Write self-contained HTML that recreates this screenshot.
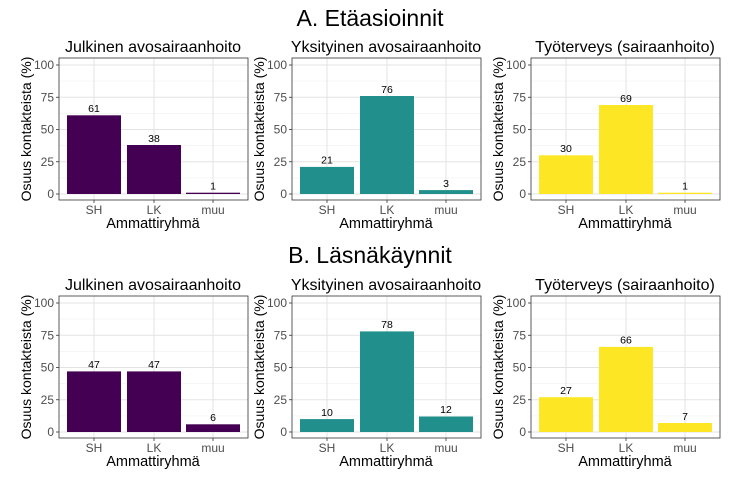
<!DOCTYPE html>
<html><head><meta charset="utf-8"><style>body{margin:0;background:#fff}svg{display:block}text{font-family:"Liberation Sans",sans-serif}</style></head><body>
<svg width="741" height="483" viewBox="0 0 741 483" xmlns="http://www.w3.org/2000/svg">
<defs>
<g id="frame">
<rect x="0" y="0" width="189" height="142" fill="#fff"/>
<g stroke="#f2f2f2" stroke-width="0.6"><line x1="0" x2="189" y1="119.9" y2="119.9"/><line x1="0" x2="189" y1="87.6" y2="87.6"/><line x1="0" x2="189" y1="55.4" y2="55.4"/><line x1="0" x2="189" y1="23.1" y2="23.1"/></g>
<g stroke="#e3e3e3" stroke-width="1"><line x1="0" x2="189" y1="136" y2="136"/><line x1="0" x2="189" y1="103.75" y2="103.75"/><line x1="0" x2="189" y1="71.5" y2="71.5"/><line x1="0" x2="189" y1="39.25" y2="39.25"/><line x1="0" x2="189" y1="7" y2="7"/><line x1="35" x2="35" y1="0" y2="142"/><line x1="95" x2="95" y1="0" y2="142"/><line x1="154" x2="154" y1="0" y2="142"/></g>
<g stroke="#333" stroke-width="0.8"><line x1="-3" x2="0" y1="136" y2="136"/><line x1="-3" x2="0" y1="103.75" y2="103.75"/><line x1="-3" x2="0" y1="71.5" y2="71.5"/><line x1="-3" x2="0" y1="39.25" y2="39.25"/><line x1="-3" x2="0" y1="7" y2="7"/><line x1="35" x2="35" y1="142" y2="145"/><line x1="95" x2="95" y1="142" y2="145"/><line x1="154" x2="154" y1="142" y2="145"/></g>
<g font-size="12" fill="#4d4d4d" text-anchor="end"><text x="-5" y="140">0</text><text x="-5" y="108">25</text><text x="-5" y="75.5">50</text><text x="-5" y="43.5">75</text><text x="-5" y="11">100</text></g>
<g font-size="12" fill="#4d4d4d" text-anchor="middle"><text x="35" y="156">SH</text><text x="95" y="156">LK</text><text x="154" y="156">muu</text></g>
<text x="94" y="170" font-size="14.5" text-anchor="middle" fill="#000">Ammattiryhmä</text>
<text transform="translate(-28,71) rotate(-90)" font-size="14" text-anchor="middle" fill="#000">Osuus kontakteista (%)</text>
</g>
<rect id="border" x="0" y="0" width="189" height="142" fill="none" stroke="#333" stroke-width="0.8"/>
</defs>

<text x="370" y="26" font-size="23" text-anchor="middle">A. Etäasioinnit</text>
<text x="370" y="263" font-size="23" text-anchor="middle">B. Läsnäkäynnit</text>

<g transform="translate(59,58)">
<text x="94" y="-6" font-size="16" text-anchor="middle">Julkinen avosairaanhoito</text>
<use href="#frame"/>
<g fill="#440154"><rect x="8" y="57.3" width="54" height="78.7"/><rect x="68" y="87" width="54" height="49"/><rect x="127" y="134.7" width="54" height="1.3"/></g>
<g font-size="10.5" text-anchor="middle"><text x="35" y="54">61</text><text x="95" y="84">38</text><text x="154" y="131.5">1</text></g>
<use href="#border"/>
</g>
<g transform="translate(292,58)">
<text x="94" y="-6" font-size="16" text-anchor="middle">Yksityinen avosairaanhoito</text>
<use href="#frame"/>
<g fill="#21908C"><rect x="8" y="108.9" width="54" height="27.1"/><rect x="68" y="38" width="54" height="98"/><rect x="127" y="132.1" width="54" height="3.9"/></g>
<g font-size="10.5" text-anchor="middle"><text x="35" y="105.5">21</text><text x="95" y="35">76</text><text x="154" y="129">3</text></g>
<use href="#border"/>
</g>
<g transform="translate(531,58)">
<text x="94" y="-6" font-size="16" text-anchor="middle">Työterveys (sairaanhoito)</text>
<use href="#frame"/>
<g fill="#FDE725"><rect x="8" y="97.3" width="54" height="38.7"/><rect x="68" y="47" width="54" height="89"/><rect x="127" y="134.7" width="54" height="1.3"/></g>
<g font-size="10.5" text-anchor="middle"><text x="35" y="94">30</text><text x="95" y="44">69</text><text x="154" y="131.5">1</text></g>
<use href="#border"/>
</g>

<g transform="translate(59,296)">
<text x="94" y="-6" font-size="16" text-anchor="middle">Julkinen avosairaanhoito</text>
<use href="#frame"/>
<g fill="#440154"><rect x="8" y="75.4" width="54" height="60.6"/><rect x="68" y="75.4" width="54" height="60.6"/><rect x="127" y="128.3" width="54" height="7.7"/></g>
<g font-size="10.5" text-anchor="middle"><text x="35" y="72">47</text><text x="95" y="72">47</text><text x="154" y="125">6</text></g>
<use href="#border"/>
</g>
<g transform="translate(292,296)">
<text x="94" y="-6" font-size="16" text-anchor="middle">Yksityinen avosairaanhoito</text>
<use href="#frame"/>
<g fill="#21908C"><rect x="8" y="123.1" width="54" height="12.9"/><rect x="68" y="35.4" width="54" height="100.6"/><rect x="127" y="120.5" width="54" height="15.5"/></g>
<g font-size="10.5" text-anchor="middle"><text x="35" y="120">10</text><text x="95" y="32">78</text><text x="154" y="117">12</text></g>
<use href="#border"/>
</g>
<g transform="translate(531,296)">
<text x="94" y="-6" font-size="16" text-anchor="middle">Työterveys (sairaanhoito)</text>
<use href="#frame"/>
<g fill="#FDE725"><rect x="8" y="101.2" width="54" height="34.8"/><rect x="68" y="50.9" width="54" height="85.1"/><rect x="127" y="127" width="54" height="9"/></g>
<g font-size="10.5" text-anchor="middle"><text x="35" y="98">27</text><text x="95" y="47.5">66</text><text x="154" y="124">7</text></g>
<use href="#border"/>
</g>
</svg>
</body></html>
